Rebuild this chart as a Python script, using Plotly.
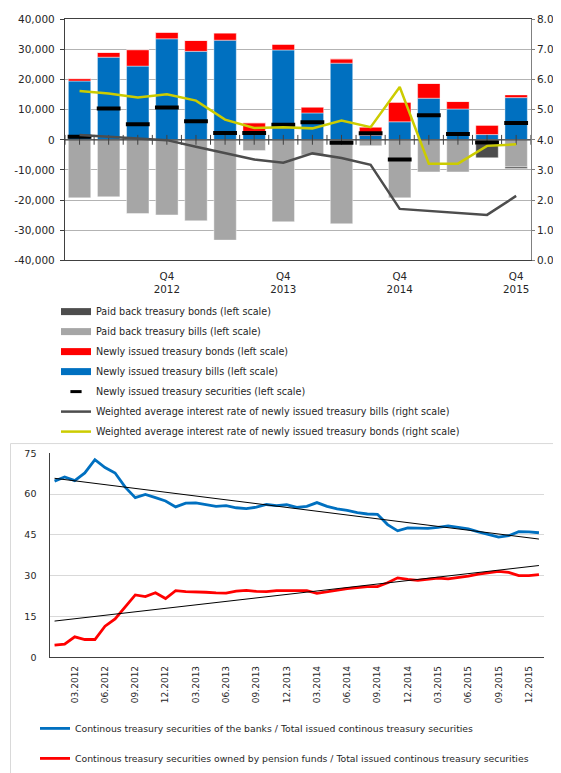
import numpy as np
import plotly.graph_objects as go

# ---------------- top chart data ----------------
quarters = ["Q1 2012", "Q2 2012", "Q3 2012", "Q4 2012",
            "Q1 2013", "Q2 2013", "Q3 2013", "Q4 2013",
            "Q1 2014", "Q2 2014", "Q3 2014", "Q4 2014",
            "Q1 2015", "Q2 2015", "Q3 2015", "Q4 2015"]
new_bills = [19500, 27400, 24450, 33500, 29350, 33050, 2800, 29800,
             8920, 25430, 1530, 5980, 13800, 10230, 1750, 14000]
new_bonds = [800, 1600, 5450, 2150, 3600, 2400, 2850, 1900,
             1960, 1420, 2710, 6520, 4900, 2470, 3040, 900]
paid_bills = [-19240, -18900, -24450, -24900, -26850, -33260, -3580, -27170,
              -5000, -27830, -1950, -19240, -10650, -10650, -1300, -9000]
paid_bonds = [0, 0, 0, 0, 0, 0, 0, 0,
              0, 0, 0, 0, 0, 0, -4650, -550]
net_issued = [1000, 10400, 5200, 10750, 6200, 2300, 2300, 5000,
              5860, -980, 2180, -6550, 8150, 1950, -860, 5540]
bills_rate = [4.16, 4.11, 4.04, 3.99, 3.77, 3.57, 3.35, 3.24,
              3.55, 3.40, 3.17, 1.71, 1.64, 1.58, 1.51, 2.14]
bonds_rate = [5.62, 5.54, 5.40, 5.51, 5.30, 4.67, 4.39, 4.42,
              4.38, 4.64, 4.42, 5.75, 3.21, 3.21, 3.80, 3.85]

top_tick_quarters = ["Q4 2012", "Q4 2013", "Q4 2014", "Q4 2015"]
top_tick_text = ["Q4<br>2012", "Q4<br>2013", "Q4<br>2014", "Q4<br>2015"]
left_ticks = [-40000, -30000, -20000, -10000, 0, 10000, 20000, 30000, 40000]
left_labels = ["-40,000", "-30,000", "-20,000", "-10,000", "0",
               "10,000", "20,000", "30,000", "40,000"]
right_ticks = [0, 1, 2, 3, 4, 5, 6, 7, 8]
right_labels = ["0.0", "1.0", "2.0", "3.0", "4.0", "5.0", "6.0", "7.0", "8.0"]

# ---------------- bottom chart data ----------------
months = [f"{m:02d}.{y}" for y in range(2012, 2016) for m in range(1, 13)] + ["01.2016"]
banks_share = [64.8, 66.3, 65.0, 67.8, 72.7, 69.8, 67.8, 62.6, 58.7, 59.9, 58.7, 57.5,
               55.3, 56.7, 56.8, 56.1, 55.5, 55.8, 55.0, 54.7, 55.2, 56.2, 55.8, 56.1,
               55.1, 55.5, 56.9, 55.5, 54.6, 54.0, 53.2, 52.7, 52.6, 48.8, 46.5, 47.6,
               47.6, 47.4, 47.8, 48.3, 47.8, 47.2, 46.1, 45.2, 44.2, 44.7, 46.2, 46.1,
               45.8]
pension_share = [4.45, 4.8, 7.5, 6.5, 6.5, 11.4, 14.1, 18.3, 22.9, 22.3, 23.7, 21.6,
                 24.5, 24.1, 24.1, 23.9, 23.7, 23.6, 24.3, 24.6, 24.2, 24.1, 24.5, 24.5,
                 24.5, 24.5, 23.5, 24.1, 24.7, 25.2, 25.6, 26.0, 26.0, 27.4, 29.2, 28.6,
                 28.3, 28.6, 29.1, 28.8, 29.2, 29.8, 30.6, 31.1, 31.6, 31.2, 30.0, 30.0,
                 30.4]
bottom_ticks = ["03.2012", "06.2012", "09.2012", "12.2012",
                "03.2013", "06.2013", "09.2013", "12.2013",
                "03.2014", "06.2014", "09.2014", "12.2014",
                "03.2015", "06.2015", "09.2015", "12.2015"]
bottom_y_ticks = [0, 15, 30, 45, 60, 75]

# ---------------- styling ----------------
PAGE_W, PAGE_H = 561, 773
BODY_MARGIN = 8              # default page margin around the plot div
W, H = PAGE_W - BODY_MARGIN, PAGE_H - BODY_MARGIN
FONT = "DejaVu Sans"
TXT = "#262626"
BLUE = "#0070C0"
RED = "#FF0000"
LGRAY = "#A6A6A6"
DGRAY = "#4D4D4D"
YELLOW = "#CCCC00"
LINE_DARK = "#404040"


def px_x(p):
    """screen pixel -> paper fraction"""
    return (p - BODY_MARGIN) / W


def px_y(p):
    return 1 - (p - BODY_MARGIN) / H


xi = list(range(len(quarters)))
tick_idx = [quarters.index(q) for q in top_tick_quarters]

fig = go.Figure()

bar_common = dict(xaxis="x", yaxis="y", showlegend=False, hoverinfo="x+y",
                  marker_line_width=0.6, marker_line_color="rgba(255,255,255,0.7)")
fig.add_trace(go.Bar(x=xi, y=new_bills, marker_color=BLUE, **bar_common))
fig.add_trace(go.Bar(x=xi, y=new_bonds, marker_color=RED, **bar_common))
fig.add_trace(go.Bar(x=xi, y=paid_bills, marker_color=LGRAY, **bar_common))
fig.add_trace(go.Bar(x=xi, y=paid_bonds, marker_color=DGRAY, **bar_common))

# axis line crossing at zero with half-category tick marks
half_steps = [k * 0.5 - 0.5 for k in range(2 * len(quarters) + 1)]
fig.add_trace(go.Scatter(x=half_steps, y=[0] * len(half_steps), mode="lines+markers",
                         line=dict(color=LINE_DARK, width=1.3),
                         marker=dict(symbol="line-ns", size=7,
                                     line=dict(color=LINE_DARK, width=1)),
                         showlegend=False, hoverinfo="skip", xaxis="x", yaxis="y"))

# net newly issued securities markers
fig.add_trace(go.Scatter(x=xi, y=net_issued, mode="markers",
                         marker=dict(symbol="line-ew", size=17,
                                     line=dict(color="black", width=4)),
                         showlegend=False, xaxis="x", yaxis="y"))

# rate lines on right axis
fig.add_trace(go.Scatter(x=xi, y=bills_rate, mode="lines",
                         line=dict(color=DGRAY, width=2.5),
                         name="Weighted average interest rate of newly issued treasury bills (right scale)",
                         legend="legend", legendrank=6, legendgroup="g6",
                         xaxis="x", yaxis="y2"))
fig.add_trace(go.Scatter(x=xi, y=bonds_rate, mode="lines",
                         line=dict(color=YELLOW, width=2.5),
                         name="Weighted average interest rate of newly issued treasury bonds (right scale)",
                         legend="legend", legendrank=7, legendgroup="g7",
                         xaxis="x", yaxis="y2"))

# legend entries for the bars / markers
legend_items = [
    ("Paid back treasury bonds (left scale)", DGRAY, 1),
    ("Paid back treasury bills (left scale)", LGRAY, 2),
    ("Newly issued treasury bonds (left scale)", RED, 3),
    ("Newly issued treasury bills (left scale)", BLUE, 4),
]
for name, col, rank in legend_items:
    fig.add_trace(go.Scatter(x=[None], y=[None], mode="lines",
                             line=dict(color=col, width=7), name=name,
                             legend="legend", legendrank=rank, legendgroup=f"g{rank}",
                             xaxis="x", yaxis="y"))
fig.add_trace(go.Scatter(x=[None], y=[None], mode="markers",
                         marker=dict(symbol="line-ew", size=8,
                                     line=dict(color="black", width=3)),
                         name="Newly issued treasury securities (left scale)",
                         legend="legend", legendrank=5, legendgroup="g5",
                         xaxis="x", yaxis="y"))

# ---------------- bottom chart ----------------
idx = np.arange(len(months))
fb = np.polyfit(idx, banks_share, 1)
fp = np.polyfit(idx, pension_share, 1)

fig.add_trace(go.Scatter(x=months, y=banks_share, mode="lines",
                         line=dict(color=BLUE, width=2.8),
                         name="Continous treasury securities of the banks / Total issued continous treasury securities",
                         legend="legend2", legendgroup="b",
                         xaxis="x3", yaxis="y3"))
fig.add_trace(go.Scatter(x=months, y=pension_share, mode="lines",
                         line=dict(color=RED, width=2.8),
                         name="Continous treasury securities owned by pension funds / Total issued continous treasury securities",
                         legend="legend2", legendgroup="p",
                         xaxis="x3", yaxis="y3"))
fig.add_trace(go.Scatter(x=[months[0], months[-1]],
                         y=[np.polyval(fb, 0), np.polyval(fb, len(months) - 1)],
                         mode="lines", line=dict(color="black", width=1),
                         showlegend=False, hoverinfo="skip", xaxis="x3", yaxis="y3"))
fig.add_trace(go.Scatter(x=[months[0], months[-1]],
                         y=[np.polyval(fp, 0), np.polyval(fp, len(months) - 1)],
                         mode="lines", line=dict(color="black", width=1),
                         showlegend=False, hoverinfo="skip", xaxis="x3", yaxis="y3"))

top_dom_x = [px_x(65), px_x(530.7)]
top_dom_y = [px_y(258.7), px_y(13.3)]
bot_dom_x = [px_x(49.5), px_x(544)]
bot_dom_y = [px_y(662.3), px_y(455)]

fig.update_layout(
    width=W, height=H,
    margin=dict(l=0, r=0, t=0, b=0),
    paper_bgcolor="white", plot_bgcolor="white",
    font=dict(family=FONT, size=10, color=TXT),
    barmode="relative", bargap=0.23,
    xaxis=dict(domain=top_dom_x, anchor="y", range=[-0.5, 15.5],
               tickvals=tick_idx, ticktext=top_tick_text, ticks="",
               ticklabelstandoff=6,
               showline=True, linecolor=LINE_DARK, linewidth=1.3, mirror=True,
               showgrid=False, zeroline=False, tickfont=dict(size=10.3)),
    yaxis=dict(domain=top_dom_y, anchor="x", range=[-40000, 40000],
               tickvals=left_ticks, ticktext=left_labels,
               ticks="outside", ticklen=4, tickcolor=LINE_DARK,
               ticklabelstandoff=3,
               showline=True, linecolor=LINE_DARK, linewidth=1.3,
               showgrid=True, gridcolor="#B3B3B3", gridwidth=1,
               zeroline=False, tickfont=dict(size=10.5)),
    yaxis2=dict(overlaying="y", side="right", anchor="x", range=[0, 8],
                tickvals=right_ticks, ticktext=right_labels,
                ticks="outside", ticklen=3, tickcolor="#808080",
                ticklabelstandoff=0,
                showline=True, linecolor="#808080", linewidth=1.3,
                showgrid=False, zeroline=False, tickfont=dict(size=10.5)),
    xaxis3=dict(domain=bot_dom_x, anchor="y3", type="category",
                categoryorder="array", categoryarray=months,
                range=[-0.5, len(months) - 0.5],
                tickvals=bottom_ticks, ticktext=bottom_ticks, tickangle=-90,
                ticks="", ticklabelstandoff=4,
                showline=True, linecolor=LINE_DARK, linewidth=1.3,
                showgrid=False, zeroline=False, tickfont=dict(size=9)),
    yaxis3=dict(domain=bot_dom_y, anchor="x3", range=[0, 75],
                tickvals=bottom_y_ticks, ticks="", ticklabelstandoff=10,
                showline=True, linecolor=LINE_DARK, linewidth=1.3,
                showgrid=True, gridcolor="#D9D9D9", gridwidth=1,
                zeroline=False, tickfont=dict(size=9.5)),
    legend=dict(x=px_x(56), y=px_y(296), xanchor="left", yanchor="top",
                orientation="v", tracegroupgap=1,
                font=dict(family=FONT, size=9.6, color=TXT),
                bgcolor="rgba(0,0,0,0)", borderwidth=0),
    legend2=dict(x=px_x(35), y=px_y(720), xanchor="left", yanchor="top",
                 orientation="v", tracegroupgap=11,
                 font=dict(family=FONT, size=9.3, color=TXT),
                 bgcolor="rgba(0,0,0,0)", borderwidth=0),
    shapes=[dict(type="rect", xref="paper", yref="paper",
                 x0=px_x(10.5), x1=1.05, y0=-0.05, y1=px_y(445),
                 line=dict(color="#D9D9D9", width=1), fillcolor="rgba(0,0,0,0)",
                 layer="below")],
)

fig.write_html("out.html")
